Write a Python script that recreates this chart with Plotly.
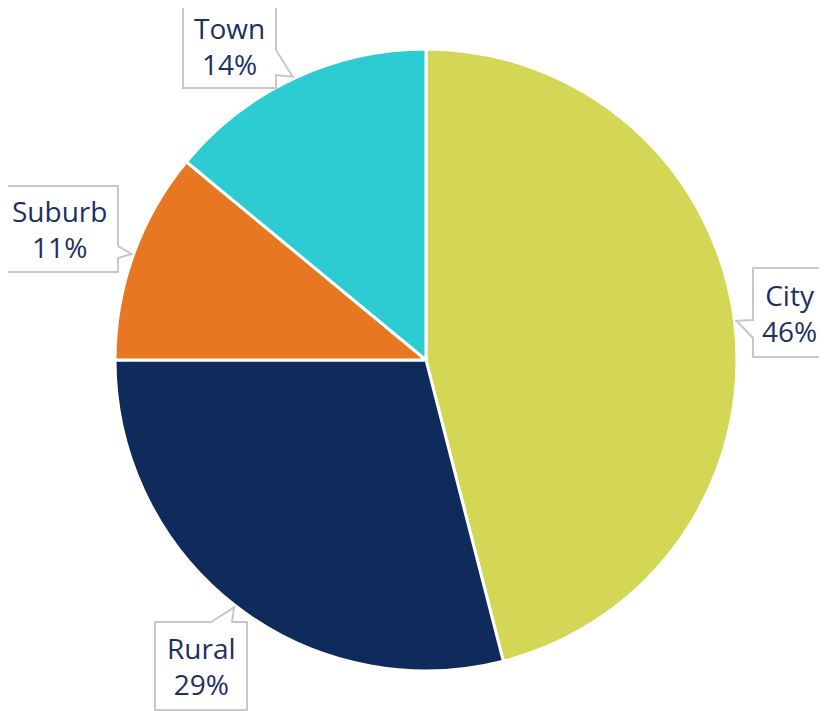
import math
import plotly.graph_objects as go

labels = ["City", "Rural", "Suburb", "Town"]
values = [46, 29, 11, 14]
colors = ["#D4D755", "#0F2B5B", "#E87722", "#2DCCD3"]

# page body has an 8px margin, so the figure is drawn from (8, 8)
OFF = 8
W, H = 827 - OFF, 711 - OFF
cx, cy, r = 426, 360, 311

# callout boxes in window pixels: (x0, y0, x1, y1), side facing the pie, pointer base span
boxes = {
    "City": ((753, 268, 826, 357), "left", (320, 338)),
    "Rural": ((155, 622, 247, 710), "top", (211, 232)),
    "Suburb": ((1, 186, 118, 272), "right", (246, 258)),
    "Town": ((183, 1, 276, 88), "right", (50, 75)),
}


def px(x):
    return (x - OFF) / W


def py(y):
    return 1 - (y - OFF) / H


fig = go.Figure()
fig.add_trace(go.Pie(
    labels=labels,
    values=values,
    sort=False,
    direction="clockwise",
    rotation=0,
    textinfo="none",
    hoverinfo="label+percent",
    marker=dict(colors=colors, line=dict(color="white", width=3)),
    domain=dict(x=[px(cx - r), px(cx + r)], y=[py(cy + r), py(cy - r)]),
    showlegend=False,
))

shapes = []
annotations = []
total = sum(values)
start = 0
for lab, val in zip(labels, values):
    mid = (start + val / 2) / total * 2 * math.pi
    start += val
    tx = cx + (r + 2) * math.sin(mid)
    ty = cy - (r + 2) * math.cos(mid)
    (x0, y0, x1, y1), side, (b0, b1) = boxes[lab]
    pts = [(x0, y0)]
    if side == "top":
        pts += [(b0, y0), (tx, ty), (b1, y0)]
    pts.append((x1, y0))
    if side == "right":
        pts += [(x1, b0), (tx, ty), (x1, b1)]
    pts.append((x1, y1))
    pts.append((x0, y1))
    if side == "left":
        pts += [(x0, b1), (tx, ty), (x0, b0)]
    path = "M " + " L ".join(f"{px(a):.5f},{py(b):.5f}" for a, b in pts) + " Z"
    shapes.append(dict(type="path", path=path, xref="paper", yref="paper",
                       fillcolor="white", line=dict(color="#C8C8C8", width=2),
                       layer="above"))
    # keep the text block inside the visible page
    ymid = max((y0 + y1) / 2, OFF + 38)
    annotations.append(dict(
        x=px((x0 + x1) / 2), y=py(ymid), xref="paper", yref="paper",
        text=f"{lab}<br>{round(val / total * 100)}%", showarrow=False,
        xanchor="center", yanchor="middle",
        font=dict(family="Open Sans", size=28, color="#1B3163"),
    ))

fig.update_layout(
    width=W, height=H,
    margin=dict(l=0, r=0, t=0, b=0),
    paper_bgcolor="white",
    plot_bgcolor="white",
    shapes=shapes,
    annotations=annotations,
)

fig.write_html("out.html")
